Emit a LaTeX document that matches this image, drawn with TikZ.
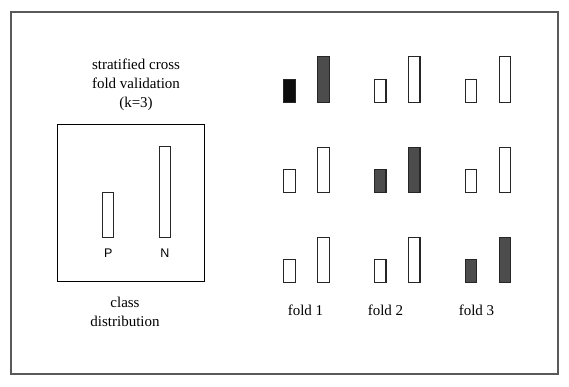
\documentclass[tikz,border=0pt]{standalone}
\usepackage{fontspec}
\setmainfont{Liberation Serif}
\newfontfamily\barfont{Liberation Sans}

\tikzset{
  bar/.style={draw=black!85, line width=1.1pt, rectangle, inner sep=0pt, anchor=south, minimum width=11.5pt},
  lowbar/.style={bar, minimum height=23pt},
  highbar/.style={bar, minimum height=45.5pt},
  testbar/.style={fill=black!70},
  label/.style={align=center, font=\fontsize{15}{18.7}\selectfont},
}

\begin{document}
\begin{tikzpicture}[x=1pt, y=-1pt]
\useasboundingbox (0,0) rectangle (569,387);
\draw[black!65, line width=1.3pt] (11,12) rectangle (558,374);

% class distribution
\node[draw, rectangle, line width=1pt, inner sep=0pt, minimum width=147.4pt, minimum height=156.7pt] (dist) at (131,203.3) {};
\node[bar, minimum width=11pt, minimum height=45.6pt] (pbar) at (108.2,238.3) {};
\node[bar, minimum width=11pt, minimum height=91pt] (nbar) at (164.8,238.3) {};
\node[font=\barfont\fontsize{12.5}{15}\selectfont] (p) at (108.2,253) {P};
\node[font=\barfont\fontsize{12.5}{15}\selectfont] (n) at (164.8,253) {N};
\node[label] (title) at (136,85) {stratified cross\\fold validation\\(k=3)};
\node[label] (classdist) at (125,312) {class\\distribution};

% fold 1
\node[lowbar, fill=black!95] (a1) at (289.5,102.7) {};
\node[highbar, testbar] (b1) at (323.5,102.7) {};
\node[lowbar] (a2) at (289.5,193.3) {};
\node[highbar] (b2) at (323.5,193.3) {};
\node[lowbar] (a3) at (289.5,283.3) {};
\node[highbar] (b3) at (323.5,283.3) {};

% fold 2
\node[lowbar] (c1) at (380.2,102.7) {};
\node[highbar] (d1) at (414.2,102.7) {};
\node[lowbar, testbar] (c2) at (380.2,193.3) {};
\node[highbar, testbar] (d2) at (414.2,193.3) {};
\node[lowbar] (c3) at (380.2,283.3) {};
\node[highbar] (d3) at (414.2,283.3) {};

% fold 3
\node[lowbar] (e1) at (471,102.7) {};
\node[highbar] (f1) at (504.9,102.7) {};
\node[lowbar] (e2) at (471,193.3) {};
\node[highbar] (f2) at (504.9,193.3) {};
\node[lowbar, testbar] (e3) at (471,283.3) {};
\node[highbar, testbar] (f3) at (504.9,283.3) {};

\node[label, anchor=base] (fold1) at (305.5,315.5) {fold 1};
\node[label, anchor=base] (fold2) at (385.5,315.5) {fold 2};
\node[label, anchor=base] (fold3) at (476.5,315.5) {fold 3};
\end{tikzpicture}
\end{document}
